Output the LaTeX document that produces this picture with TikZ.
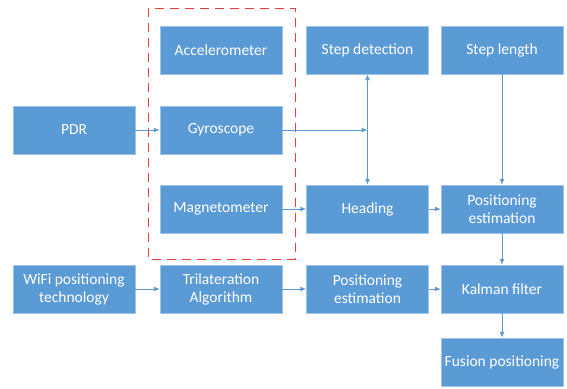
\documentclass[tikz,border=0pt]{standalone}
\usepackage{fontspec}
\setmainfont{Carlito}
\usetikzlibrary{arrows.meta,calc,positioning}
\definecolor{officeblue}{RGB}{91,155,213}
\definecolor{edgeblue}{RGB}{160,196,230}
\definecolor{dashred}{RGB}{235,60,60}
\tikzset{
  bloque/.style={
    draw=edgeblue,
    fill=officeblue,
    text=white,
    align=center,
    minimum width=122pt,
    minimum height=48pt,
    inner sep=2pt,
    font=\fontsize{15.5}{18}\selectfont
  },
  arrow/.style={
    -{Latex[length=6pt,width=5pt]},
    line width=1pt,
    officeblue
  },
  grupo/.style={
    draw=dashred,
    line width=0.9pt,
    dash pattern=on 9pt off 6pt
  }
}
\begin{document}
\begin{tikzpicture}[x=1pt,y=-1pt]
\useasboundingbox (0,0) rectangle (567,388);
% sensores
\draw[grupo] (148,8) rectangle (295,259);
\node[bloque] (acc) at (221,50) {Accelerometer};
\node[bloque] (gyro) at (221,130) {Gyroscope};
\node[bloque] (mag) at (221,209) {Magnetometer};
\node[bloque] (pdr) at (74,130) {PDR};
\node[bloque] (step) at (367.5,50) {Step detection};
\node[bloque] (head) at (367.5,209) {Heading};
\node[bloque] (len) at (502,50) {Step length};
\node[bloque] (pos1) at (502,209) {Positioning\\estimation};
% WiFi
\node[bloque] (wifi) at (74,289) {WiFi positioning\\technology};
\node[bloque] (tri) at (221,289) {Trilateration\\Algorithm};
\node[bloque] (pos2) at (367.5,289) {Positioning\\estimation};
\node[bloque] (kal) at (502,289) {Kalman filter};
\node[bloque] (fus) at (502,362) {Fusion positioning};
\coordinate (cruce) at (step.south |- gyro.east);
\draw[arrow] (pdr) -- (gyro);
\draw[arrow] (gyro.east) -- (cruce);
\draw[arrow,{Latex[length=6pt,width=5pt]}-{Latex[length=6pt,width=5pt]}] (step) -- (head);
\draw[arrow] (mag) -- (head);
\draw[arrow] (head) -- (pos1);
\draw[arrow] (len) -- (pos1);
\draw[arrow] (pos1) -- (kal);
\draw[arrow] (kal) -- (fus);
\draw[arrow] (wifi) -- (tri);
\draw[arrow] (tri) -- (pos2);
\draw[arrow] (pos2) -- (kal);
\end{tikzpicture}
\end{document}
